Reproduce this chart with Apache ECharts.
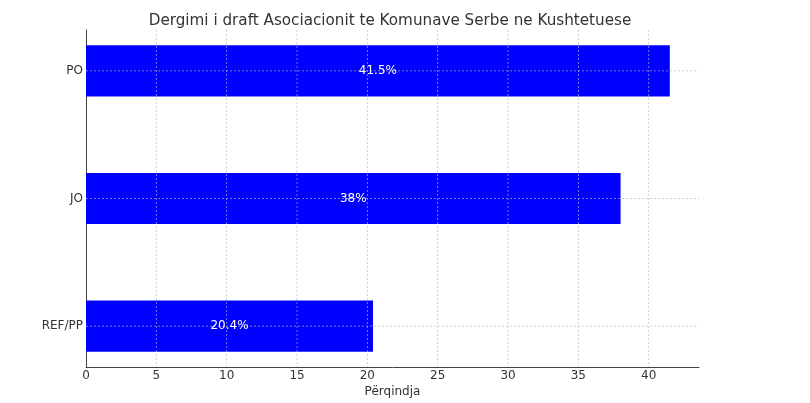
<!DOCTYPE html>
<html>
<head>
<meta charset="utf-8">
<script src="https://cdn.jsdelivr.net/npm/echarts@6/dist/echarts.min.js"></script>
<style>
html,body{margin:0;padding:0;background:#fff;overflow:hidden;}
#c{width:810px;height:403px;}
</style>
</head>
<body>
<div id="c"></div>
<script>
const categories = ['PO', 'JO', 'REF/PP'];
const values = [41.5, 38, 20.4];
const valueLabels = ['41.5%', '38%', '20.4%'];
const xTicks = [0, 5, 10, 15, 20, 25, 30, 35, 40];
const categoryIndex = [0, 1, 2];

const FONT = 'DejaVu Sans';
const X_MAX = 43.575;
const GRID_STYLE = {stroke: 'rgba(185,185,185,0.8)', lineWidth: 0.8, lineDash: [2, 2]};
const chart = echarts.init(document.getElementById('c'), null, {renderer: 'canvas'});
const data = values.map((v, i) => [v, i]);

chart.setOption({
  animation: false,
  backgroundColor: '#ffffff',
  title: {
    text: 'Dergimi i draft Asociacionit te Komunave Serbe ne Kushtetuese',
    left: 385, textAlign: 'center', top: 9,
    textStyle: {fontFamily: FONT, fontSize: 15.2, fontWeight: 'normal', color: '#333'}
  },
  grid: {left: 86, width: 613, top: 30, height: 338.7, containLabel: false},
  xAxis: {
    type: 'value', min: 0, max: X_MAX, interval: 5,
    name: 'Përqindja', nameLocation: 'middle', nameGap: 19, nameMoveOverlap: false,
    nameTextStyle: {fontFamily: FONT, fontSize: 12, color: '#333'},
    axisLine: {show: true, onZero: false, lineStyle: {color: '#444', width: 1}},
    axisTick: {show: false},
    axisLabel: {fontFamily: FONT, fontSize: 12, color: '#333', margin: 3,
      formatter: v => xTicks.includes(v) ? String(v) : ''},
    splitLine: {show: false}
  },
  yAxis: {
    type: 'value', min: -0.32, max: 2.32, inverse: true,
    axisLine: {show: true, onZero: false, lineStyle: {color: '#444', width: 1}},
    axisTick: {show: false},
    axisLabel: {fontFamily: FONT, fontSize: 12, color: '#333', margin: 3,
      customValues: categoryIndex, formatter: v => categories[Math.round(v)]},
    splitLine: {show: false}
  },
  series: [{
    type: 'custom',
    z: 1,
    data: data,
    encode: {x: 0, y: 1},
    renderItem: function (params, api) {
      const v = api.value(0), i = api.value(1);
      const p0 = api.coord([0, i - 0.2]);
      const p1 = api.coord([v, i + 0.2]);
      return {type: 'rect', shape: {x: p0[0], y: p0[1], width: p1[0] - p0[0], height: p1[1] - p0[1]},
        style: {fill: '#0000ff'}};
    }
  }, {
    type: 'custom',
    z: 3, silent: true,
    data: xTicks.filter(t => t > 0).map(t => [t]),
    encode: {x: 0},
    renderItem: function (params, api) {
      const t = api.value(0);
      const a = api.coord([t, -0.32]);
      const b = api.coord([t, 2.32]);
      return {type: 'line', shape: {x1: a[0], y1: a[1], x2: b[0], y2: b[1]}, style: GRID_STYLE};
    }
  }, {
    type: 'custom',
    z: 3, silent: true,
    data: categoryIndex.map(i => [0, i]),
    encode: {x: 0, y: 1},
    renderItem: function (params, api) {
      const i = api.value(1);
      const a = api.coord([0, i]);
      const b = api.coord([X_MAX, i]);
      return {type: 'line', shape: {x1: a[0], y1: a[1], x2: b[0], y2: b[1]}, style: GRID_STYLE};
    }
  }, {
    type: 'custom',
    z: 4, silent: true,
    data: data,
    encode: {x: 0, y: 1},
    renderItem: function (params, api) {
      const v = api.value(0), i = api.value(1);
      const mid = api.coord([v / 2, i]);
      return {type: 'text', style: {text: valueLabels[params.dataIndex], x: mid[0], y: mid[1],
        align: 'center', verticalAlign: 'middle', fill: '#ffffff', font: '12px "DejaVu Sans"'}};
    }
  }]
});
</script>
</body>
</html>
